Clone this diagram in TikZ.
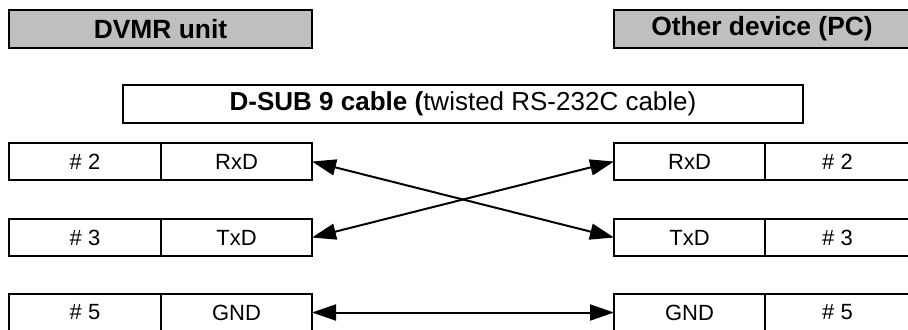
\documentclass[tikz,border=0pt]{standalone}
\usepackage{fontspec}
\setmainfont{Liberation Sans}
\usetikzlibrary{arrows.meta,positioning}

\begin{document}
\begin{tikzpicture}[x=0.5pt,y=-0.5pt,
	hdr/.style={draw,fill=black!25,line width=0.9pt,inner sep=0pt,minimum height=19pt,font=\fontsize{13.2}{15}\selectfont\bfseries},
	cable/.style={draw,line width=0.9pt,inner sep=0pt,minimum height=19pt,minimum width=340pt,font=\fontsize{13}{15}\selectfont},
	cell/.style={draw,line width=0.9pt,inner sep=0pt,outer sep=0pt,minimum height=18.5pt,font=\fontsize{11}{13}\selectfont},
	link/.style={line width=1pt,{Triangle[length=12pt,width=8pt]}-{Triangle[length=12pt,width=8pt]}}]
\useasboundingbox (0,0) rectangle (908,329);
% headers
\node[hdr,minimum width=151.5pt](dvmr)at(160.5,29){DVMR unit};
\node[hdr,minimum width=148pt](pc)at(762,29){Other device (PC)};
\node[cable](cab)at(463,104){\textbf{D-SUB 9 cable (}twisted RS-232C cable)};
% pins, DVMR side and PC side
\foreach \y/\pin/\sig in {161.5/2/RxD,237.5/3/TxD,312.5/5/GND}{
	\node[cell,minimum width=76pt](lp\pin)at(85,\y){\# \pin};
	\node[cell,minimum width=75.5pt,anchor=west](ls\pin)at(lp\pin.east){\sig};
	\node[cell,minimum width=75.5pt](rs\pin)at(689.5,\y){\sig};
	\node[cell,minimum width=72.5pt,anchor=west](rp\pin)at(rs\pin.east){\# \pin};
}
% twisted wiring
\draw[link](ls2.east)--(rs3.west);
\draw[link](ls3.east)--(rs2.west);
\draw[link](ls5.east)--(rs5.west);
\end{tikzpicture}
\end{document}
